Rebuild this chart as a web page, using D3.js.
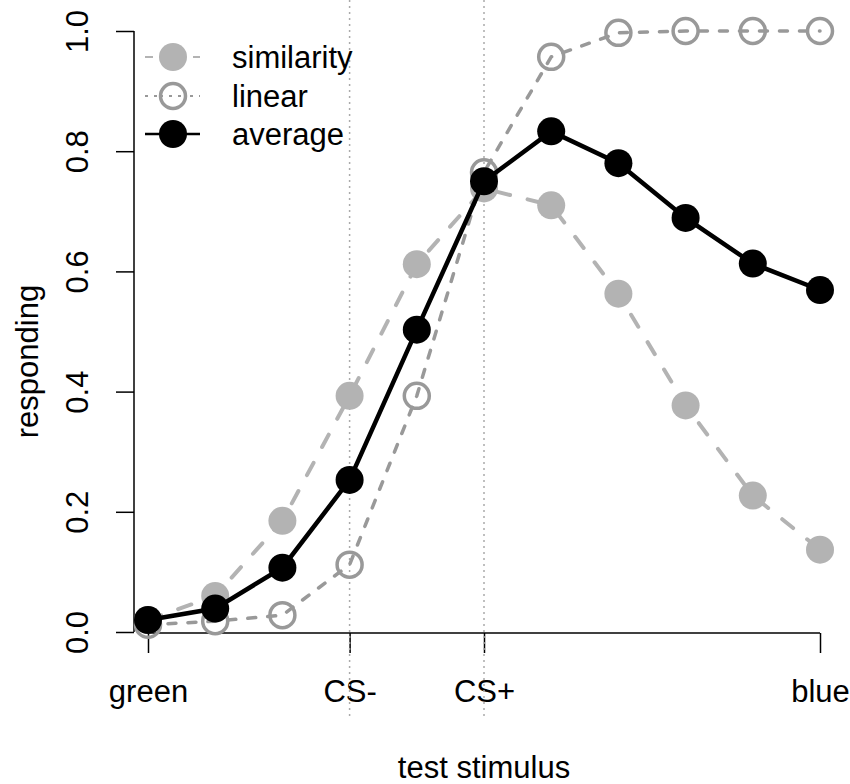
<!DOCTYPE html>
<html>
<head>
<meta charset="utf-8">
<script src="https://cdn.jsdelivr.net/npm/d3@7"></script>
<style>
  body { margin: 0; background: #fff; }
  svg text { font-family: "Liberation Sans", Arial, sans-serif; fill: #000; }
</style>
</head>
<body>
<div id="chart"></div>
<script>
// stimulus positions 1..11
const stimuli = [1, 2, 3, 4, 5, 6, 7, 8, 9, 10, 11];
const similarity = [0.020, 0.060, 0.185, 0.393, 0.612, 0.738, 0.710, 0.563, 0.377, 0.227, 0.137];
const linear     = [0.012, 0.018, 0.028, 0.112, 0.393, 0.765, 0.957, 0.997, 1.000, 1.000, 1.000];
const average    = [0.020, 0.039, 0.107, 0.253, 0.503, 0.750, 0.833, 0.780, 0.689, 0.613, 0.569];

const xTickPos = [1, 4, 6, 11];
const xTickLabels = ["green", "CS-", "CS+", "blue"];
const yTicks = [0, 0.2, 0.4, 0.6, 0.8, 1.0];
const refLines = [4, 6];

const legendNames = ["similarity", "linear", "average"];

const width = 850, height = 784;

const svg = d3.select("#chart")
  .append("svg")
  .attr("width", width)
  .attr("height", height);

const x = d3.scaleLinear().domain([1, 11]).range([148, 820]);
const y = d3.scaleLinear().domain([0, 1]).range([632, 31]);

// reference lines at CS- and CS+
const yAxisG = svg.append("g")
  .attr("transform", "translate(134,0)")
  .call(d3.axisLeft(y).tickValues(yTicks).tickFormat(d3.format(".1f")).tickSize(18).tickPadding(0));
yAxisG.select(".domain").attr("d", `M0,${y(0)}V${y(1)}`).attr("stroke", "#000").attr("stroke-width", 1.5);
yAxisG.selectAll(".tick line").attr("stroke", "#000").attr("stroke-width", 1.5);
yAxisG.selectAll(".tick text")
  .attr("font-size", 31)
  .attr("transform", "rotate(-90)")
  .attr("x", 0)
  .attr("y", -46)
  .attr("dy", 0)
  .attr("text-anchor", "middle");

const xAxisG = svg.append("g")
  .attr("transform", "translate(0,633)")
  .call(d3.axisBottom(x).tickValues(xTickPos).tickFormat((d, i) => xTickLabels[i]).tickSize(20).tickPadding(0));
xAxisG.select(".domain").attr("d", `M${x(1)},0H${x(11)}`).attr("stroke", "#000").attr("stroke-width", 1.5);
xAxisG.selectAll(".tick line").attr("stroke", "#000").attr("stroke-width", 1.5);
xAxisG.selectAll(".tick text")
  .attr("font-size", 31)
  .attr("y", 69)
  .attr("dy", 0);

svg.selectAll(".refline")
  .data(refLines)
  .enter().append("line")
  .attr("class", "refline")
  .attr("x1", d => x(d)).attr("x2", d => x(d))
  .attr("y1", 0).attr("y2", 720)
  .attr("stroke", "#aaaaaa")
  .attr("stroke-width", 1.5)
  .attr("stroke-dasharray", "2,4");

// axis titles
svg.append("text")
  .attr("transform", `translate(38,${y(0.45)}) rotate(-90)`)
  .attr("text-anchor", "middle")
  .attr("font-size", 31)
  .text("responding");

svg.append("text")
  .attr("x", 484)
  .attr("y", 778)
  .attr("text-anchor", "middle")
  .attr("font-size", 31)
  .text("test stimulus");

const line = d3.line()
  .x((d, i) => x(stimuli[i]))
  .y(d => y(d));

// similarity
svg.append("path")
  .datum(similarity)
  .attr("d", line)
  .attr("fill", "none")
  .attr("stroke", "#b3b3b3")
  .attr("stroke-width", 4)
  .attr("stroke-linecap", "round")
  .attr("stroke-dasharray", "14,18");
svg.selectAll(".sim")
  .data(similarity)
  .enter().append("circle")
  .attr("class", "sim")
  .attr("cx", (d, i) => x(stimuli[i]))
  .attr("cy", d => y(d))
  .attr("r", 14)
  .attr("fill", "#b3b3b3");

// linear
svg.append("path")
  .datum(linear)
  .attr("d", line)
  .attr("fill", "none")
  .attr("stroke", "#999999")
  .attr("stroke-width", 3.5)
  .attr("stroke-linecap", "round")
  .attr("stroke-dasharray", "8,12");
svg.selectAll(".lin")
  .data(linear)
  .enter().append("circle")
  .attr("class", "lin")
  .attr("cx", (d, i) => x(stimuli[i]))
  .attr("cy", d => y(d))
  .attr("r", 12.5)
  .attr("fill", "none")
  .attr("stroke", "#999999")
  .attr("stroke-width", 3.5);

// average
svg.append("path")
  .datum(average)
  .attr("d", line)
  .attr("fill", "none")
  .attr("stroke", "#000")
  .attr("stroke-width", 4.5);
svg.selectAll(".avg")
  .data(average)
  .enter().append("circle")
  .attr("class", "avg")
  .attr("cx", (d, i) => x(stimuli[i]))
  .attr("cy", d => y(d))
  .attr("r", 14)
  .attr("fill", "#000");

// legend
const legend = svg.append("g");
const rowY = [57, 96, 134];
const styles = [
  { stroke: "#b3b3b3", width: 2, dash: "8,8", fill: "#b3b3b3", ring: null },
  { stroke: "#999999", width: 2, dash: "3,6", fill: "none", ring: "#999999" },
  { stroke: "#000", width: 2.5, dash: null, fill: "#000", ring: null }
];
legendNames.forEach((name, i) => {
  const st = styles[i];
  legend.append("line")
    .attr("x1", 145).attr("x2", 200)
    .attr("y1", rowY[i]).attr("y2", rowY[i])
    .attr("stroke", st.stroke)
    .attr("stroke-width", st.width)
    .attr("stroke-dasharray", st.dash);
  legend.append("circle")
    .attr("cx", 173).attr("cy", rowY[i])
    .attr("r", st.ring ? 12.5 : 14)
    .attr("fill", st.ring ? "#fff" : st.fill)
    .attr("stroke", st.ring)
    .attr("stroke-width", st.ring ? 3.5 : 0);
  if (st.ring) {
    legend.append("line")
      .attr("x1", 160).attr("x2", 186)
      .attr("y1", rowY[i]).attr("y2", rowY[i])
      .attr("stroke", st.stroke)
      .attr("stroke-width", st.width)
      .attr("stroke-dasharray", st.dash);
  }
  legend.append("text")
    .attr("x", 232)
    .attr("y", rowY[i] + 11)
    .attr("font-size", 31)
    .text(name);
});
</script>
</body>
</html>
